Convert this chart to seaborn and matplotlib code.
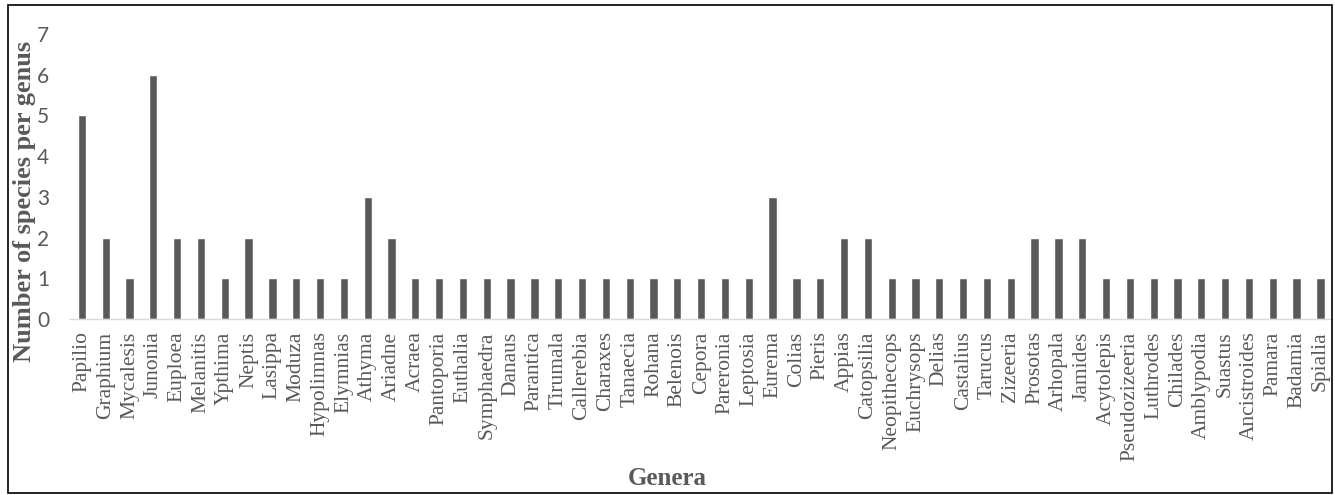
import matplotlib
matplotlib.use("Agg")
import matplotlib.pyplot as plt
from matplotlib.patches import Rectangle
import pandas as pd
import seaborn as sns

genera = [
    "Papilio", "Graphium", "Mycalesis", "Junonia", "Euploea", "Melanitis",
    "Ypthima", "Neptis", "Lasippa", "Moduza", "Hypolimnas", "Elymnias",
    "Athyma", "Ariadne", "Acraea", "Pantoporia", "Euthalia", "Symphaedra",
    "Danaus", "Parantica", "Tirumala", "Callerebia", "Charaxes", "Tanaecia",
    "Rohana", "Belenois", "Cepora", "Pareronia", "Leptosia", "Eurema",
    "Colias", "Pieris", "Appias", "Catopsilia", "Neopithecops", "Euchrysops",
    "Delias", "Castalius", "Tarucus", "Zizeeria", "Prosotas", "Arhopala",
    "Jamides", "Acytolepis", "Pseudozizeeria", "Luthrodes", "Chilades",
    "Amblypodia", "Suastus", "Ancistroides", "Pamara", "Badamia", "Spialia",
]
species_count = [
    5, 2, 1, 6, 2, 2,
    1, 2, 1, 1, 1, 1,
    3, 2, 1, 1, 1, 1,
    1, 1, 1, 1, 1, 1,
    1, 1, 1, 1, 1, 3,
    1, 1, 2, 2, 1, 1,
    1, 1, 1, 1, 2, 2,
    2, 1, 1, 1, 1,
    1, 1, 1, 1, 1, 1,
]
y_ticks = [0, 1, 2, 3, 4, 5, 6, 7]

df = pd.DataFrame({"Genus": genera, "Species": species_count})

sns.set_theme(style="white")
plt.rcParams["font.family"] = ["Liberation Serif", "DejaVu Serif"]

GREY = "#595959"

fig = plt.figure(figsize=(13.35, 4.95), dpi=100)
ax = fig.add_axes([0.0524, 0.3556, 0.9456, 0.5757])

sns.barplot(data=df, x="Genus", y="Species", color=GREY, saturation=1,
            width=0.35, ax=ax)

ax.set_xlim(-0.5, len(genera) - 0.5)
ax.set_ylim(0, 7)
ax.set_yticks(y_ticks)
ax.set_yticklabels([str(t) for t in y_ticks], fontfamily="Lato",
                   fontsize=15, color=GREY)
ax.set_xticks(range(len(genera)))
ax.set_xticklabels(genera, rotation=90, fontsize=15.5, color=GREY,
                   fontfamily="Liberation Serif")
ax.tick_params(axis="both", length=0)
ax.tick_params(axis="x", pad=9)
ax.tick_params(axis="y", pad=15)

for side in ["left", "right", "top"]:
    ax.spines[side].set_visible(False)
ax.spines["bottom"].set_color("#d9d9d9")
ax.spines["bottom"].set_linewidth(1)

ax.set_xlabel("")
ax.set_ylabel("")
fig.text(0.5, 0.034, "Genera", ha="center", va="center", fontsize=18,
         fontweight="bold", color=GREY, fontfamily="Liberation Serif")
fig.text(0.018, 0.594, "Number of species per genus", rotation=90,
         ha="center", va="center", fontsize=19, fontweight="bold",
         color=GREY, fontfamily="Liberation Serif")

# outer frame around the chart area
fig.patches.append(Rectangle((0.006, 0.004), 0.992, 0.986,
                             transform=fig.transFigure, fill=False,
                             edgecolor="black", linewidth=1.2))

fig.savefig("out.png", dpi=100, facecolor="white")
